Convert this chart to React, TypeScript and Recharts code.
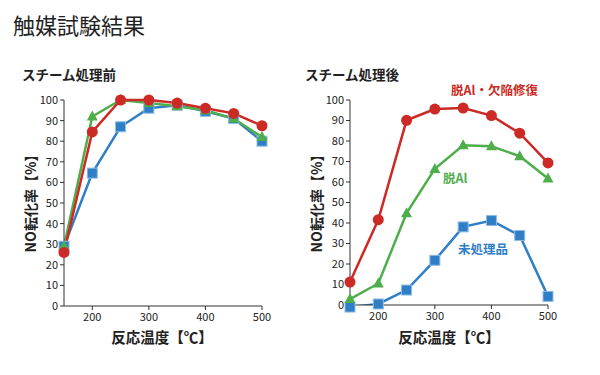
import { LineChart, Line, XAxis, YAxis } from "recharts";

const temps = [150, 200, 250, 300, 350, 400, 450, 500];
const xTicks = [200, 300, 400, 500];
const yTicks = [0, 10, 20, 30, 40, 50, 60, 70, 80, 90, 100];

// スチーム処理前
const beforeUntreated = [29, 64.5, 87, 96, 97.5, 94.5, 91, 80];
const beforeDeAl = [29, 92, 100, 98.5, 97, 95, 91, 82];
const beforeRepaired = [26, 84.5, 100, 100, 98.5, 96, 93.5, 87.5];

// スチーム処理後
const afterUntreated = [-1, 0.5, 7.3, 21.8, 38.1, 41.2, 33.9, 4.2];
const afterDeAl = [2.9, 10.5, 44.8, 66.4, 77.9, 77.4, 72.6, 61.7];
const afterRepaired = [11.2, 41.6, 90.1, 95.6, 96.1, 92.4, 83.8, 69.3];

const RED = "#cc2a25";
const GREEN = "#4fae4c";
const BLUE = "#2f7ec6";
const FONT = "'Noto Sans CJK JP', 'Noto Sans', sans-serif";

const build = (u: number[], d: number[], r: number[]) =>
  temps.map((t, i) => ({ t, untreated: u[i], deal: d[i], repaired: r[i] }));

const beforeData = build(beforeUntreated, beforeDeAl, beforeRepaired);
const afterData = build(afterUntreated, afterDeAl, afterRepaired);

// markers are drawn through the label list so they are not clipped at the plot edge
const pos = (p: any) => ({
  cx: p.viewBox?.x ?? p.x,
  cy: p.viewBox?.y ?? p.y,
});

const circleMark = (p: any) => {
  const { cx, cy } = pos(p);
  return <circle key={`c${p.index}`} cx={cx} cy={cy} r={5.5} fill={RED} />;
};
const squareMark = (p: any) => {
  const { cx, cy } = pos(p);
  return (
    <rect
      key={`s${p.index}`}
      x={cx - 5}
      y={cy - 5}
      width={10}
      height={10}
      fill={BLUE}
      stroke="#8fbde6"
      strokeWidth={1}
    />
  );
};
const triangleMark = (p: any) => {
  const { cx, cy } = pos(p);
  return (
    <polygon
      key={`t${p.index}`}
      points={`${cx},${cy - 6} ${cx - 5.5},${cy + 4} ${cx + 5.5},${cy + 4}`}
      fill={GREEN}
    />
  );
};

const tickStyle = { fontSize: 11, fill: "#222", fontFamily: FONT };

function Panel({
  data,
  margin,
  overflow,
}: {
  data: any[];
  margin: any;
  overflow: boolean;
}) {
  return (
    <LineChart width={300} height={375} data={data} margin={margin}>
      <XAxis
        dataKey="t"
        type="number"
        domain={[150, 500]}
        ticks={xTicks}
        height={30}
        tickSize={4}
        tickMargin={3}
        stroke="#333"
        tick={tickStyle}
      />
      <YAxis
        type="number"
        domain={[0, 100]}
        ticks={yTicks}
        allowDataOverflow={overflow}
        width={40}
        tickSize={4}
        tickMargin={2}
        stroke="#333"
        tick={tickStyle}
      />
      <Line
        dataKey="untreated"
        stroke={BLUE}
        strokeWidth={2.5}
        dot={false}
        label={squareMark}
        isAnimationActive={false}
      />
      <Line
        dataKey="deal"
        stroke={GREEN}
        strokeWidth={2.5}
        dot={false}
        label={triangleMark}
        isAnimationActive={false}
      />
      <Line
        dataKey="repaired"
        stroke={RED}
        strokeWidth={2.5}
        dot={false}
        label={circleMark}
        isAnimationActive={false}
      />
    </LineChart>
  );
}

const abs = (x: number, y: number, extra: any = {}) => ({
  position: "absolute" as const,
  left: x,
  top: y,
  fontFamily: FONT,
  whiteSpace: "nowrap" as const,
  lineHeight: 1,
  ...extra,
});

export default function App() {
  return (
    <div
      style={{
        position: "absolute",
        left: 0,
        top: 0,
        width: 600,
        height: 375,
        background: "#fff",
        overflow: "hidden",
      }}
    >
      <div style={abs(13, 13, { fontSize: 22, color: "#222" })}>触媒試験結果</div>
      <div style={abs(22, 68, { fontSize: 13.5, fontWeight: 700, color: "#222" })}>
        スチーム処理前
      </div>
      <div style={abs(305, 68, { fontSize: 13.5, fontWeight: 700, color: "#222" })}>
        スチーム処理後
      </div>

      <div style={{ position: "absolute", left: 0, top: 0 }}>
        <Panel
          data={beforeData}
          overflow={false}
          margin={{ top: 100, right: 38, bottom: 39, left: 24 }}
        />
      </div>
      <div style={{ position: "absolute", left: 300, top: 0 }}>
        <Panel
          data={afterData}
          overflow={true}
          margin={{ top: 100, right: 52, bottom: 40, left: 10 }}
        />
      </div>

      {/* y-axis titles */}
      {[30, 316].map((cx) => (
        <div
          key={cx}
          style={abs(cx - 60, 193, {
            width: 120,
            textAlign: "center",
            fontSize: 14,
            fontWeight: 700,
            color: "#222",
            transform: "rotate(-90deg)",
          })}
        >
          NO転化率【%】
        </div>
      ))}
      {/* x-axis titles */}
      {[162, 449].map((cx) => (
        <div
          key={cx}
          style={abs(cx - 60, 330, {
            width: 120,
            textAlign: "center",
            fontSize: 14.5,
            fontWeight: 700,
            color: "#222",
          })}
        >
          反応温度【℃】
        </div>
      ))}

      <div style={abs(451, 84, { fontSize: 12.5, fontWeight: 700, color: RED })}>
        脱Al・欠陥修復
      </div>
      <div style={abs(443, 172, { fontSize: 12.5, fontWeight: 700, color: GREEN })}>
        脱Al
      </div>
      <div style={abs(458, 243, { fontSize: 12.5, fontWeight: 700, color: BLUE })}>
        未処理品
      </div>
    </div>
  );
}
